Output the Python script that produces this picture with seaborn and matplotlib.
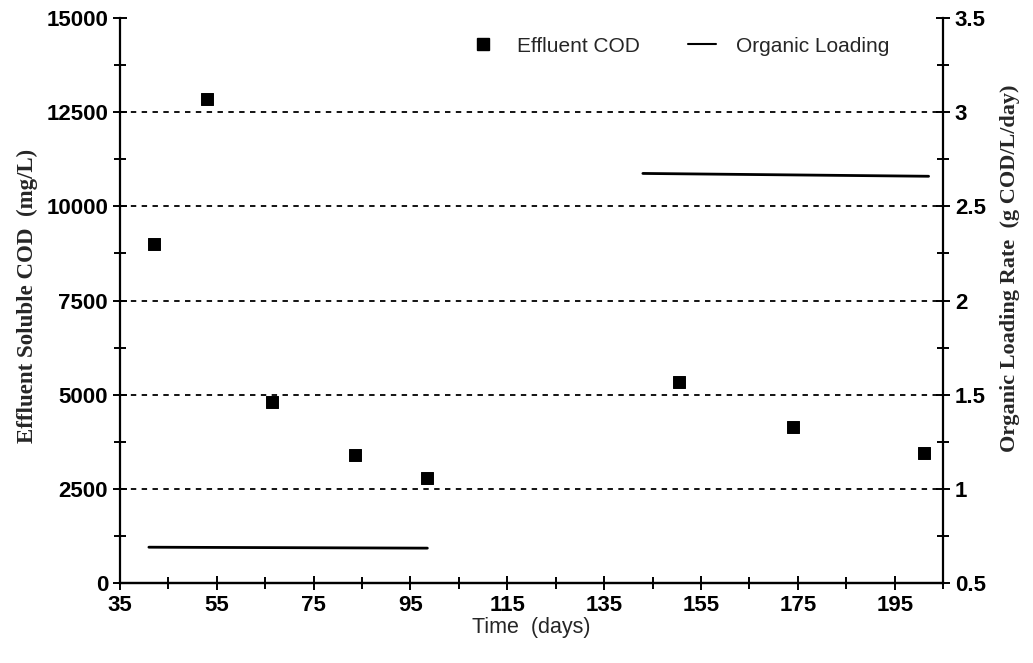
import numpy as np
import pandas as pd
import seaborn as sns
import matplotlib.pyplot as plt
from matplotlib.lines import Line2D

# Effluent COD measurements (left axis)
cod_days = [42, 53, 66.5, 83.5, 98.5, 150.5, 174, 201]
cod_values = [9000, 12850, 4800, 3400, 2800, 5350, 4150, 3450]

# Organic loading rate, two constant periods (right axis)
load_days = [41, 98.5, 143, 202]
load_rate = [0.69, 0.685, 2.675, 2.66]
load_period = ["low", "low", "high", "high"]

x_ticks = [35, 55, 75, 95, 115, 135, 155, 175, 195]
left_ticks = [0, 2500, 5000, 7500, 10000, 12500, 15000]
right_ticks = [0.5, 1, 1.5, 2, 2.5, 3, 3.5]
right_labels = ["0.5", "1", "1.5", "2", "2.5", "3", "3.5"]

cod_df = pd.DataFrame({"day": cod_days, "cod": cod_values})
load_df = pd.DataFrame({"day": load_days, "rate": load_rate, "period": load_period})

sns.set_style("ticks")
plt.rcParams["font.family"] = ["Liberation Sans", "DejaVu Sans"]

fig = plt.figure(figsize=(10.33, 6.63), dpi=100)
ax = fig.add_axes([0.116, 0.1207, 0.797, 0.852])
ax2 = ax.twinx()

# dotted grid lines
for v in left_ticks[1:-1]:
    ax.axhline(v, color="black", lw=1.3, ls=(0, (3, 3)), zorder=1)

sns.scatterplot(data=cod_df, x="day", y="cod", ax=ax, marker="s", s=75,
                color="black", edgecolor="black", zorder=3, legend=False)
sns.lineplot(data=load_df, x="day", y="rate", units="period", estimator=None,
             ax=ax2, color="black", lw=2, legend=False)

ax.set_xlim(35, 205)
ax.set_ylim(0, 15000)
ax2.set_ylim(0.5, 3.5)

ax.set_xticks(x_ticks)
ax.set_xticks(np.arange(45, 206, 20), minor=True)
ax.set_yticks(left_ticks)
ax.set_yticks(np.arange(1250, 15000, 2500), minor=True)
ax2.set_yticks(right_ticks)
ax2.set_yticklabels(right_labels)
ax2.set_yticks(np.arange(0.75, 3.5, 0.5), minor=True)

for a in (ax, ax2):
    a.spines["top"].set_visible(False)
    for s in ("left", "right", "bottom"):
        a.spines[s].set_linewidth(1.6)
        a.spines[s].set_color("black")
    a.tick_params(which="both", direction="inout", width=1.4, colors="black",
                  labelsize=16)
    a.tick_params(which="major", length=10)
    a.tick_params(which="minor", length=8)
    for lab in a.get_xticklabels() + a.get_yticklabels():
        lab.set_fontweight("bold")
ax2.spines["left"].set_visible(False)
ax.spines["right"].set_visible(False)

serif = ["Liberation Serif", "DejaVu Serif"]
ax.set_ylabel("Effluent Soluble COD  (mg/L)", family=serif, fontsize=16.5,
              fontweight="bold", labelpad=6)
ax.yaxis.label.set_y(0.508)
ax2.set_ylabel("Organic Loading Rate  (g COD/L/day)", family=serif, fontsize=16,
               fontweight="bold", labelpad=10)
ax2.yaxis.label.set_y(0.557)
ax.set_xlabel("Time  (days)", fontsize=15.5, labelpad=1)

handles = [
    Line2D([], [], marker="s", color="black", ls="none", markersize=8),
    Line2D([], [], color="black", lw=1.5),
]
fig.legend(handles, ["Effluent COD", "Organic Loading"], loc="center",
           bbox_to_anchor=(679 / 1033, 1 - 46 / 663), ncol=2, frameon=False,
           fontsize=15, handlelength=1.35, handletextpad=0.95,
           columnspacing=2.3)

fig.savefig("out.png", dpi=100)
